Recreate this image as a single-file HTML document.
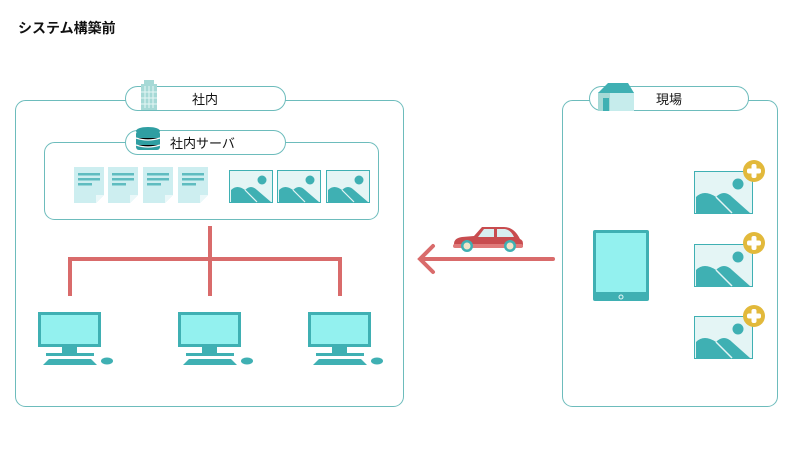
<!DOCTYPE html>
<html><head><meta charset="utf-8"><style>
body{margin:0;background:#fff;}
svg{display:block;font-family:"Liberation Sans","Noto Sans CJK JP",sans-serif;}
</style></head><body>
<svg width="800" height="450" viewBox="0 0 800 450" xmlns="http://www.w3.org/2000/svg">
<defs>
<g id="doc"><path d="M0 0h30v28l-8 8h-22z" fill="#cdeef0"/><path d="M22 36v-8h8z" fill="#eaf8f9"/><rect x="4" y="6" width="22" height="2.5" fill="#5fbcc0"/><rect x="4" y="11" width="22" height="2.5" fill="#5fbcc0"/><rect x="4" y="16" width="14" height="2.5" fill="#5fbcc0"/></g>
<g id="img"><rect x="0.5" y="0.5" width="43" height="32" fill="#e4f5f5" stroke="#3fb0b3"/><circle cx="33" cy="10" r="4.5" fill="#3fb0b3"/><path d="M2 32v-12q6-6 14 0q6-6 12 0l14 12z" fill="#3fb0b3"/><path d="M16 20l12 12" stroke="#e4f5f5" stroke-width="1.2"/></g>
<g id="pc"><rect x="0" y="0" width="63" height="35" fill="#3fb0b3"/><rect x="3" y="3" width="57" height="29" fill="#93f1ef"/><rect x="24" y="35" width="15" height="6" fill="#3fb0b3"/><rect x="8" y="41" width="48" height="3" fill="#3fb0b3"/><path d="M5 53l6-6h42l6 6z" fill="#3fb0b3"/><ellipse cx="69" cy="49" rx="6" ry="3.5" fill="#3fb0b3"/></g>
<g id="imgp"><rect x="0.5" y="0.5" width="58" height="42" fill="#e4f5f5" stroke="#3fb0b3"/><circle cx="44" cy="13" r="5.5" fill="#3fb0b3"/><path d="M2 42v-16q8-8 20 0q8-8 16 0l18 16z" fill="#3fb0b3"/><path d="M22 26l16 16" stroke="#e4f5f5" stroke-width="1.5"/></g>
<g id="plus"><circle r="11" fill="#e2b93b"/><rect x="-7" y="-2.5" width="14" height="5" rx="2" fill="#fff"/><rect x="-2.5" y="-7" width="5" height="14" rx="2" fill="#fff"/></g>
</defs>
<text x="18" y="33" font-size="14" font-weight="bold" fill="#111">システム構築前</text>

<!-- left box -->
<rect x="15.5" y="100.5" width="388" height="306" rx="10" fill="none" stroke="#6dbcbc"/>
<rect x="125.5" y="86.5" width="160" height="24" rx="12" fill="#fff" stroke="#6dbcbc"/>
<g><rect x="141" y="84" width="16" height="26" fill="#a6d9d6"/><rect x="144" y="80" width="10" height="5" fill="#a6d9d6"/><g stroke="#e6f6f5" stroke-width="1"><line x1="145" y1="86" x2="145" y2="108"/><line x1="149" y1="86" x2="149" y2="108"/><line x1="153" y1="86" x2="153" y2="108"/><line x1="141" y1="92" x2="157" y2="92"/><line x1="141" y1="98" x2="157" y2="98"/><line x1="141" y1="104" x2="157" y2="104"/></g></g>
<text x="205" y="104" font-size="13" text-anchor="middle" fill="#111">社内</text>

<rect x="44.5" y="142.5" width="334" height="77" rx="10" fill="none" stroke="#6dbcbc"/>
<rect x="125.5" y="130.5" width="160" height="24" rx="12" fill="#fff" stroke="#6dbcbc"/>
<g fill="#2f9ea2"><ellipse cx="148" cy="131" rx="12" ry="4"/><rect x="136" y="131" width="24" height="19" rx="3"/></g>
<g stroke="#fff" stroke-width="1.3"><path d="M136 138q12 4 24 0"/><path d="M136 145q12 4 24 0"/></g>
<text x="170" y="148" font-size="13" fill="#111">社内サーバ</text>

<use href="#doc" x="74" y="167"/><use href="#doc" x="108" y="167"/><use href="#doc" x="143" y="167"/><use href="#doc" x="178" y="167"/>
<use href="#img" x="229" y="170"/><use href="#img" x="277" y="170"/><use href="#img" x="326" y="170"/>

<g stroke="#d96b6b" stroke-width="4" fill="none"><line x1="210" y1="226" x2="210" y2="296"/><line x1="70" y1="259" x2="340" y2="259"/><line x1="70" y1="257" x2="70" y2="296"/><line x1="340" y1="257" x2="340" y2="296"/></g>

<use href="#pc" x="38" y="312"/><use href="#pc" x="178" y="312"/><use href="#pc" x="308" y="312"/>

<!-- arrow + car -->
<g stroke="#d96b6b" stroke-width="4" fill="none" stroke-linecap="round"><line x1="553" y1="259" x2="421" y2="259"/><path d="M433 246l-13 13 13 13"/></g>
<g><path d="M454 244q0-6 8-7l12-1 8-9h22q10 0 16 12q3 1 3 5v3h-69z" fill="#c84c4f"/><path d="M484 229h10v8h-16z M497 229h8q6 1 9 8h-17z" fill="#d8eef0"/><rect x="453" y="244" width="70" height="4" rx="2" fill="#e07a7a"/><circle cx="467" cy="246" r="6" fill="#3fb0b3"/><circle cx="467" cy="246" r="3.5" fill="#f1e3c8"/><circle cx="510" cy="246" r="6" fill="#3fb0b3"/><circle cx="510" cy="246" r="3.5" fill="#f1e3c8"/></g>

<!-- right box -->
<rect x="562.5" y="100.5" width="215" height="306" rx="10" fill="none" stroke="#6dbcbc"/>
<rect x="589.5" y="86.5" width="159" height="24" rx="12" fill="#fff" stroke="#6dbcbc"/>
<g><rect x="598" y="92" width="36" height="19" fill="#c6ecec"/><path d="M598 93l10-10h20l6 10z" fill="#3fb0b3"/><rect x="598" y="93" width="12" height="18" fill="#a6d9d6"/><rect x="603" y="98" width="6" height="13" fill="#3fb0b3"/></g>
<text x="669" y="104" font-size="13" text-anchor="middle" fill="#111">現場</text>

<rect x="593" y="230" width="56" height="71" rx="2" fill="#3fb0b3"/><rect x="596" y="233" width="50" height="59" fill="#93f1ef"/><circle cx="621" cy="297" r="2" fill="none" stroke="#e4f5f5" stroke-width="1"/>

<use href="#imgp" x="694" y="171"/><use href="#imgp" x="694" y="244"/><use href="#imgp" x="694" y="316"/>
<use href="#plus" x="754" y="171"/><use href="#plus" x="754" y="243"/><use href="#plus" x="754" y="316"/>
</svg>
</body></html>
